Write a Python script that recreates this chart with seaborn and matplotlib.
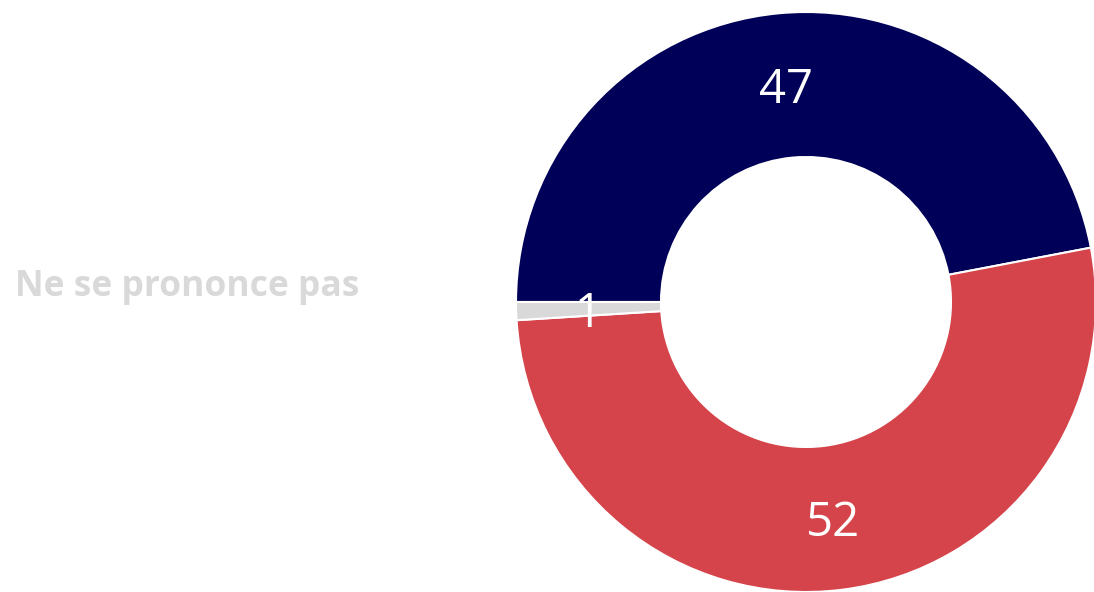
import matplotlib
matplotlib.use("Agg")
import matplotlib.pyplot as plt
import matplotlib.transforms as mtransforms
import seaborn as sns

categories = ["Oui", "Non", "Ne se prononce pas"]
values = [47, 52, 1]
colors = ["#000058", "#D5444A", "#D9D9D9"]
side_label = "Ne se prononce pas"

sns.set_theme(style="white")
plt.rcParams['font.family'] = ['Open Sans', 'DejaVu Sans']

W, H = 1094, 592
fig = plt.figure(figsize=(W / 100, H / 100), dpi=100)
ax = fig.add_axes([0, 0, 1, 1])

lookup = iter(values)
wedges, texts, autotexts = ax.pie(
    values,
    colors=colors,
    startangle=180,
    counterclock=False,
    center=(806, H - 302),
    radius=290,
    wedgeprops=dict(width=145, edgecolor="white", linewidth=1.5),
    autopct=lambda p: f"{next(lookup)}",
    pctdistance=0.75,
    textprops=dict(color="white", fontsize=34),
    frame=True,
)
ax.set_xlim(0, W)
ax.set_ylim(0, H)
ax.set_aspect("auto")
ax.axis("off")

shift = mtransforms.offset_copy(ax.transData, fig=fig, x=0, y=-5, units="dots")
for t in autotexts:
    t.set_transform(shift)

ax.text(15, H - 287, side_label, ha="left", va="center",
        fontsize=25.5, fontweight="bold", color="#D9D9D9")

fig.savefig("out.png", dpi=100)
